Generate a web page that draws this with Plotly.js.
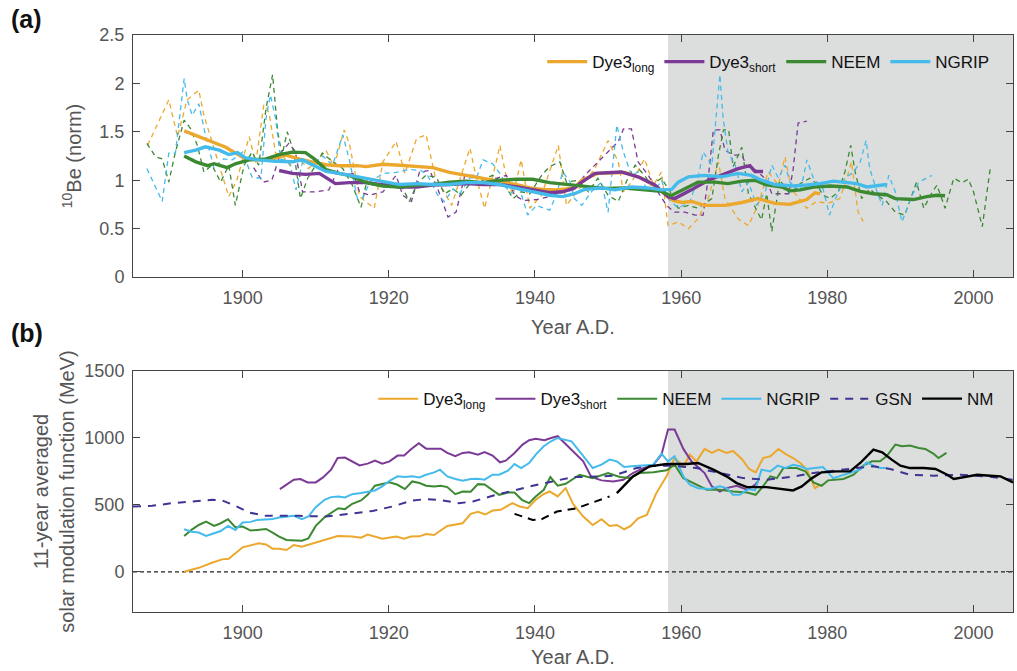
<!DOCTYPE html>
<html>
<head>
<meta charset="utf-8">
<script src="https://cdn.plot.ly/plotly-3.0.1.min.js"></script>
<style>html,body{margin:0;padding:0;background:#fff;}#chart{width:1017px;height:671px;}</style>
</head>
<body>
<div id="chart"></div>
<script>
// ---------- Panel (a): 10Be (norm) ----------
// smoothed (thick solid) series
var aLongYr  = [1892,1894,1895.8,1897.7,1898.6,1900.4,1902.2,1904.1,1905.9,1907.7,1909.5,1911.4,1913.2,1915.7,1916.9,1919.2,1921.5,1923.8,1926,1928.3,1930.6,1932.9,1935.2,1937.5,1939.3,1941.1,1942.9,1944.1,1945.4,1946.4,1948.6,1952.3,1954.6,1956.4,1957.8,1958.9,1960.1,1961.4,1963.2,1966,1968.3,1970.5,1972.8,1974.9,1975.3,1977.2,1978.3,1979];
var aLongVal = [1.51,1.45,1.39,1.34,1.30,1.22,1.21,1.22,1.26,1.22,1.19,1.16,1.15,1.15,1.14,1.165,1.155,1.145,1.13,1.08,1.05,1.02,0.99,0.955,0.92,0.905,0.90,0.91,0.92,1.0,1.07,1.08,1.02,0.94,0.86,0.79,0.77,0.78,0.74,0.74,0.77,0.81,0.76,0.75,0.76,0.80,0.87,0.86];

var aShortYr  = [1905,1906.8,1908.6,1910.5,1912.7,1914.6,1916.9,1919.2,1921.5,1923.8,1926,1928.3,1930.6,1932.9,1935.2,1937.5,1939.7,1942,1943.8,1945.4,1946.4,1948.2,1951.8,1954.1,1956.4,1958.2,1959.1,1961.4,1963.7,1966,1967.8,1969.4,1970.1,1971.2];
var aShortVal = [1.10,1.07,1.06,1.07,0.965,0.975,0.975,0.955,0.93,0.93,0.95,0.955,0.965,0.955,0.955,0.93,0.90,0.87,0.88,0.92,0.98,1.07,1.085,1.035,0.95,0.83,0.81,0.90,1.00,1.07,1.12,1.15,1.09,1.09];

var aNeemYr  = [1892,1893.6,1895.2,1896.1,1897.9,1899,1900.9,1903.2,1905,1906.8,1908.6,1909.8,1911.4,1913.2,1914.6,1916.9,1919.2,1921.5,1923.8,1926,1928.3,1930.6,1932.9,1935.2,1937.5,1939.7,1942,1943.8,1946.8,1949.5,1952.3,1955,1957.3,1958.6,1960.5,1962.3,1964.6,1966.4,1968.3,1970.1,1971.5,1973.8,1974.9,1976.3,1978.1,1980.4,1982.7,1984.5,1986.3,1988.1,1989.3,1991.8,1993.6,1995,1996.1];
var aNeemVal = [1.25,1.19,1.15,1.17,1.13,1.17,1.21,1.22,1.265,1.29,1.285,1.22,1.11,1.07,1.05,0.975,0.94,0.93,0.95,0.955,0.98,0.99,0.975,1.0,1.01,1.01,0.975,0.96,0.94,0.915,0.92,0.90,0.885,0.84,0.915,0.98,0.98,0.965,0.99,1.0,0.955,0.93,0.89,0.90,0.93,0.94,0.93,0.885,0.86,0.85,0.81,0.80,0.83,0.845,0.84];

var aNgripYr  = [1892,1893.6,1894.9,1896.8,1898.1,1899.3,1900.4,1902.2,1904.5,1906.8,1908.2,1909.5,1911.4,1913.2,1914.6,1916.9,1919.2,1921.5,1923.8,1926,1928.3,1930.6,1932.9,1935.2,1937.5,1939.7,1942,1943.8,1945.4,1946.8,1949.1,1950.9,1953.2,1955.5,1957.3,1958.7,1959.6,1961,1963.2,1965.5,1967.8,1969.6,1971,1972.8,1975.3,1977.2,1979,1980.8,1982.7,1984,1985.4,1986.8,1988.1];
var aNgripVal = [1.285,1.31,1.345,1.31,1.265,1.285,1.23,1.21,1.195,1.19,1.21,1.16,1.09,1.07,1.05,1.025,0.99,0.955,0.965,0.955,0.955,0.975,0.975,0.955,0.915,0.88,0.845,0.83,0.86,0.905,0.92,0.90,0.93,0.92,0.90,0.905,0.98,1.035,1.05,1.035,1.07,1.05,1.0,0.955,0.94,0.95,0.965,0.99,0.975,0.965,0.93,0.94,0.955];

// raw (thin dashed) series
var aLongRawYr  = [1887,1889.9,1891.1,1892.4,1894,1894.7,1895.8,1897.2,1898.1,1899.2,1900.9,1901.8,1902.9,1903.6,1904.5,1905.5,1906.5,1907.7,1909,1910.2,1911.4,1912.5,1913.9,1914.6,1916,1918,1919.2,1921,1922.2,1923.8,1925.1,1926.3,1928.6,1929.9,1931.1,1932,1933.1,1934.7,1935.2,1936.1,1937,1938.1,1939.3,1940.9,1943.2,1944.3,1945.9,1948.2,1950,1951.4,1952.1,1953.2,1955,1956.2,1957.3,1958.2,1959.6,1961,1962.3,1963.7,1965.1,1966,1967.8,1969.2,1970.5,1971.9,1973.3,1974.2,1975.1,1977.2,1978.5,1980.1,1981.7,1982.7,1983.3,1984.2,1984.9];
var aLongRawVal = [1.36,1.83,1.45,1.83,1.93,1.67,1.40,1.05,0.83,1.0,1.45,1.18,1.78,1.70,1.28,1.25,1.15,1.22,1.12,1.2,1.31,1.14,1.52,1.38,0.83,0.71,1.19,1.40,1.07,1.43,1.47,1.05,0.74,1.05,1.33,1.02,0.71,1.19,1.36,1.02,0.845,1.21,0.71,0.845,1.36,0.74,0.90,1.12,1.41,1.19,0.88,0.98,1.22,0.95,1.085,0.53,0.57,0.50,0.60,0.81,1.19,0.81,0.60,0.53,0.74,1.085,0.95,1.24,0.91,0.71,0.78,0.76,0.81,1.03,1.19,0.67,0.575];

var aShortRawYr  = [1901.5,1902.8,1904,1905.2,1906.3,1907.2,1908.2,1910,1911.8,1913,1914,1915.1,1916,1917.4,1919.2,1921,1921.9,1923.1,1924.2,1925.6,1926.7,1928.1,1929.2,1930.4,1932,1933.3,1934.7,1936.1,1937.2,1938.4,1940.2,1942,1943.8,1945.4,1946.8,1948.6,1950,1951.4,1952.1,1953.2,1954.1,1955.5,1956.8,1958,1959.1,1960.5,1961.9,1963,1963.7,1964.4,1965.3,1966,1967.1,1968.3,1969,1970.3,1971.7,1972.4,1974.7,1975.3,1976,1977.2];
var aShortRawVal = [1.13,0.98,1.0,1.28,1.38,1.30,0.88,0.88,0.90,1.1,1.05,1.07,0.88,0.845,0.88,1.05,0.845,0.78,1.085,1.10,0.91,0.62,0.67,1.05,1.05,1.0,1.02,1.05,0.845,0.79,0.80,0.83,0.88,0.90,1.05,1.19,1.29,1.40,1.53,1.53,1.19,1.05,0.88,0.74,0.67,0.67,0.64,0.64,1.02,1.52,1.52,1.31,1.26,1.26,1.14,1.10,1.0,0.86,0.86,1.10,1.59,1.61];

var aNeemRawYr  = [1886.9,1888.1,1889,1889.9,1890.8,1892,1892.9,1893.8,1894.7,1895.8,1897,1898.1,1899,1900.2,1901.3,1902.2,1903.2,1904.1,1904.8,1905.4,1906.1,1907,1907.9,1908.9,1910,1910.9,1912.3,1913.7,1915,1916.2,1917.1,1918,1919.2,1920.5,1921.7,1922.8,1924,1925.1,1926.5,1927.6,1928.8,1929.9,1931.1,1932.2,1933.3,1934.2,1935.6,1937,1938.1,1939.3,1940.9,1942,1943.4,1944.3,1945.9,1947.3,1948.6,1950,1951.4,1952.7,1953.7,1955,1955.9,1957.3,1958.5,1959.6,1961,1962.3,1964.2,1965.1,1965.8,1966.5,1967.1,1968.3,1969.2,1970.1,1971,1971.7,1972.4,1973.5,1974.9,1976.3,1977.6,1978.5,1979.4,1980.4,1981.5,1982.4,1983.2,1983.8,1984.7,1985.8,1986.8,1988.1,1989.3,1990.6,1991.3,1992.2,1993.2,1994.1,1995,1996.1,1997.3,1998.4,1999.3,2000,2001.2,2002.3];
var aNeemRawVal = [1.38,1.24,1.22,0.98,1.29,1.62,1.53,1.36,1.085,1.155,0.98,1.155,0.74,1.155,1.29,1.155,1.74,2.09,1.50,1.26,1.50,1.29,0.81,1.02,1.155,1.28,1.19,1.12,0.95,0.72,1.03,0.93,0.98,0.93,0.95,0.78,0.98,1.05,1.03,0.86,0.91,0.845,0.965,0.965,1.02,1.05,0.98,0.81,0.88,0.86,1.05,1.14,1.19,0.98,1.0,0.88,1.02,0.845,0.78,1.02,1.155,1.05,0.95,1.02,0.88,0.71,0.74,0.71,0.81,1.26,1.52,1.52,1.14,1.34,0.86,0.72,0.59,0.86,0.47,1.0,0.86,0.965,1.02,0.965,0.845,0.81,0.88,1.085,1.36,1.085,0.81,0.91,0.845,0.78,0.67,0.64,0.78,0.98,0.71,0.845,0.95,0.71,1.02,0.975,1.01,0.88,0.52,1.13];

var aNgripRawYr  = [1886.9,1889,1889.9,1890.8,1892,1892.4,1893.1,1894,1894.9,1896.1,1897.4,1898.6,1900,1901.3,1902.5,1903.2,1903.8,1904.5,1905.2,1906.4,1907.3,1908.2,1909.5,1911,1912.3,1913.7,1914.6,1915.7,1916.4,1917.4,1919.2,1921,1922.8,1924.4,1925.3,1926.7,1927.6,1928.8,1929.7,1931.1,1932,1932.9,1934.2,1935.4,1936.5,1937.9,1939,1940.2,1942,1942.9,1943.8,1944.8,1945.4,1946.4,1947.7,1949.1,1950,1950.7,1951.2,1952.1,1953.2,1954.1,1955.3,1956.4,1957.3,1958.2,1959.6,1961.2,1962.3,1963,1964.2,1964.8,1965.3,1965.7,1966.4,1967.4,1968.3,1969.2,1970.3,1971.5,1972.4,1973.3,1974.2,1974.9,1976.3,1977.2,1978.1,1979.4,1980.3,1981.3,1982.4,1983.6,1984.5,1985.3,1985.8,1986.8,1987.5,1988.4,1989.3,1990.2,1991.6,1992.5,1994.3];
var aNgripRawVal = [1.12,0.78,1.28,1.28,2.05,1.84,1.67,1.79,1.47,1.12,1.22,1.21,1.29,1.03,1.02,1.64,1.88,1.64,1.22,1.19,0.90,1.19,1.155,1.25,1.155,1.47,1.21,0.81,0.81,0.98,1.07,1.08,1.11,1.10,1.05,0.845,0.78,0.91,0.86,1.025,1.025,1.21,1.17,1.05,0.86,0.91,0.64,0.74,0.69,0.845,1.085,0.98,0.81,0.74,0.88,0.98,0.67,1.155,1.57,1.29,1.05,1.085,0.91,0.88,1.0,0.81,0.71,0.78,1.02,1.29,1.155,1.67,2.09,1.67,1.29,1.155,0.88,0.98,0.74,0.88,1.155,1.02,1.155,0.98,0.88,1.21,1.02,0.91,0.64,0.845,1.02,1.085,1.19,1.41,1.12,0.88,0.74,1.05,0.88,0.57,0.845,0.98,1.05];

// ---------- Panel (b): solar modulation function (MeV) ----------
var bLongYr  = [1892,1894,1895.8,1897.2,1898.1,1900,1902.2,1903.2,1904.1,1905,1906,1907,1908.1,1910,1911.4,1913,1915,1916.2,1917.1,1919.1,1921,1922.1,1923,1924.2,1925.1,1926.2,1928,1930.1,1931.2,1932.2,1933.2,1934.2,1935.3,1936.9,1937.9,1939,1940.1,1941.1,1942,1943.1,1944.2,1945.2,1946.6,1947.9,1949.1,1950.2,1951.2,1952.2,1953.1,1954.1,1955.3,1956.6,1958,1959.1,1960.3,1961.2,1962.1,1963.2,1964.2,1965.1,1966.2,1967.1,1968.3,1969.3,1970.2,1971.2,1972.2,1973.3,1974.2,1975.3,1976.3,1977.2,1978.3,1979];
var bLongVal = [0,30,68,93,98,183,213,205,173,173,163,200,188,218,243,268,263,255,278,248,263,248,263,265,283,275,343,363,433,448,428,458,463,513,488,475,538,578,600,563,625,508,413,350,393,343,350,318,343,400,425,588,713,850,788,875,825,918,888,913,888,903,843,768,743,850,863,918,883,850,813,763,625,650];

var bShortYr  = [1905.1,1906.1,1907,1907.9,1908.9,1910,1911,1912.1,1913,1914,1915,1916,1917.1,1918.1,1919.1,1920.1,1921.2,1922.1,1923,1924.1,1925.1,1926.2,1927.1,1928,1929.1,1930.1,1931,1932.2,1933.1,1934.2,1935.2,1936,1937.2,1938.3,1939.2,1940.1,1941.3,1942.2,1943.1,1944.5,1945.7,1946.6,1947.7,1949.1,1950.7,1952.1,1953.4,1954.8,1956.2,1957.3,1958.2,1959.1,1960.3,1961.4,1962.3,1963.2,1964.2,1965.3,1966.2,1967.6,1969,1970.1,1970.5];
var bShortVal = [618,658,688,693,668,668,705,763,850,853,825,795,808,830,808,825,868,868,913,960,920,920,920,888,863,888,893,875,895,868,818,830,888,950,983,993,983,1000,1013,938,875,825,708,683,675,688,738,775,800,875,1063,1063,918,825,783,738,638,600,625,643,613,650,675];

var bNeemYr  = [1892,1893,1894,1895,1896.1,1897,1898,1899,1900,1901.1,1902,1903.2,1904.1,1905,1906,1907,1908.1,1909,1910,1911.2,1912.1,1913.1,1914,1915,1916.2,1917.1,1918.1,1919.1,1920.1,1921.2,1922.2,1923.2,1924.2,1925.1,1926.2,1927.1,1928,1929.1,1930.1,1931.2,1932.2,1933.1,1934.2,1935.1,1936.3,1937.2,1938.2,1939.2,1940.1,1941.2,1942.1,1943.1,1944.2,1946.1,1947.9,1950,1951.6,1953,1954.3,1956.2,1958,1959.1,1960.3,1961.2,1962.6,1963.5,1965.3,1967.1,1969,1970.2,1971,1972.2,1973.1,1974,1975.8,1977,1978.1,1979.2,1980.1,1982.2,1983.6,1984.9,1986.1,1987.2,1988.1,1989.3,1990.2,1991.3,1992.5,1993.4,1994.5,1995.2,1996.3];
var bNeemVal = [268,313,350,375,343,363,393,333,338,308,313,320,293,263,238,238,233,250,343,408,443,475,468,508,533,575,643,658,668,650,618,675,663,643,638,643,633,580,600,598,655,653,608,575,593,593,538,513,563,613,708,643,658,725,700,738,708,700,738,743,758,800,700,675,638,613,613,600,593,575,625,713,700,775,775,750,668,643,683,693,725,793,825,825,863,950,938,943,925,918,883,850,888];

var bNgripYr  = [1892,1893,1894,1895,1896.1,1897,1898,1899,1900,1901.1,1902,1903.2,1904.1,1905,1906,1907,1908.1,1909,1910,1911.2,1912.1,1913.1,1914,1915,1916.2,1917.1,1918.1,1919.1,1920.1,1921.2,1922.2,1923.2,1924.2,1925.1,1926.2,1927,1928,1929.1,1930.1,1931.2,1932.2,1933.1,1934.2,1935.1,1936.3,1937.2,1938.1,1939.2,1940.1,1941.2,1942.2,1943.1,1944.2,1945,1946.1,1947,1947.9,1949.1,1950.2,1951.2,1952.2,1953.2,1954.3,1955.3,1956.2,1957.3,1958.2,1959.1,1960.3,1961.2,1962.3,1963.9,1965.3,1966.2,1967.1,1968,1969.2,1970.1,1971,1972.2,1973.2,1974.2,1975.3,1976.3,1977.2,1978.3,1979.4,1980.8,1982.2,1983.6,1984.5,1985.4,1986.3,1987.2,1988.1];
var bNgripVal = [318,300,293,268,288,305,343,313,368,373,388,393,395,405,413,418,393,413,483,538,558,563,555,580,588,600,608,638,680,713,708,713,705,725,743,763,713,693,680,693,695,688,725,725,755,805,775,813,875,938,975,1000,988,975,900,838,775,800,838,825,783,788,793,800,800,883,825,863,713,650,625,618,638,625,575,575,618,608,763,750,793,775,800,788,768,775,783,700,725,750,763,818,793,775,775];

var bGsnYr  = [1885,1887.6,1890.4,1893.1,1895.8,1897.2,1899,1900.9,1903.2,1907.7,1911.4,1914.6,1917.8,1920.5,1923.2,1925.1,1926.9,1929.6,1931.5,1934.2,1936.5,1939.7,1942.4,1945.2,1947,1950.7,1953.9,1956.2,1958.9,1962.1,1965.3,1968.5,1971.7,1974.9,1978.1,1981.7,1984,1986.3,1988.6,1991.3,1994.5,1998.2,2001.8,2005.4];
var bGsnVal = [488,493,513,525,538,533,493,443,418,418,413,433,455,488,533,543,538,513,525,568,600,643,675,708,708,718,775,793,793,775,738,700,688,708,738,763,775,788,768,725,718,725,713,688];

var bNmEarlyYr  = [1937.2,1939.7,1940.9,1943,1945.7,1948.4,1950.2];
var bNmEarlyVal = [433,388,393,450,475,525,563];
var bNmYr  = [1951.2,1953.4,1955.7,1958,1960.7,1962.3,1964.4,1966.2,1967.6,1969,1971.7,1973.5,1975.3,1976.5,1977.9,1979.2,1981.3,1983.1,1984.5,1986.3,1987.5,1988.8,1990,1991.3,1993.2,1994.8,1996.4,1997.3,1998.6,2000.5,2002.3,2003.7,2005.4];
var bNmVal = [588,713,788,805,805,813,763,713,663,633,633,618,608,638,700,743,750,750,813,913,893,838,793,775,775,768,725,693,708,725,718,713,668];

// axes / labels
var xRange = [1885, 2005.4];
var shadeStart = 1958.2;
var xTicks = [1900, 1920, 1940, 1960, 1980, 2000];
var aTicks = [0, 0.5, 1, 1.5, 2, 2.5];
var aTickText = ['0', '0.5', '1', '1.5', '2', '2.5'];
var bTicks = [0, 500, 1000, 1500];
var names = ['Dye3<sub>long</sub>', 'Dye3<sub>short</sub>', 'NEEM', 'NGRIP', 'GSN', 'NM'];

var C = {long: '#EBA82D', short: '#7B3A96', neem: '#3B8A32', ngrip: '#44BBEB', gsn: '#3E3494', nm: '#000000'};
var FONT = 'Arial, "Liberation Sans", Helvetica, sans-serif';
var TITLEFONT = {family: FONT, size: 20, color: '#555'};

function dashed(x, y, col) {
  return {x: x, y: y, xaxis: 'x', yaxis: 'y', mode: 'lines', showlegend: false, hoverinfo: 'skip',
          line: {color: col, width: 1.3, dash: '5px,4px'}};
}
function thick(x, y, col, name) {
  return {x: x, y: y, xaxis: 'x', yaxis: 'y', mode: 'lines', name: name, legend: 'legend',
          line: {color: col, width: 3.4}};
}
function bline(x, y, col, name, extra) {
  var t = {x: x, y: y, xaxis: 'x2', yaxis: 'y2', mode: 'lines', name: name, legend: 'legend2',
           line: {color: col, width: 2}};
  if (extra) for (var k in extra) t[k] = extra[k];
  return t;
}

var traces = [
  dashed(aLongRawYr, aLongRawVal, C.long),
  dashed(aShortRawYr, aShortRawVal, C.short),
  dashed(aNeemRawYr, aNeemRawVal, C.neem),
  dashed(aNgripRawYr, aNgripRawVal, C.ngrip),
  thick(aLongYr, aLongVal, C.long, names[0]),
  thick(aShortYr, aShortVal, C.short, names[1]),
  thick(aNeemYr, aNeemVal, C.neem, names[2]),
  thick(aNgripYr, aNgripVal, C.ngrip, names[3]),
  bline(bLongYr, bLongVal, C.long, names[0]),
  bline(bShortYr, bShortVal, C.short, names[1]),
  bline(bNeemYr, bNeemVal, C.neem, names[2]),
  bline(bNgripYr, bNgripVal, C.ngrip, names[3]),
  bline(bGsnYr, bGsnVal, C.gsn, names[4], {line: {color: C.gsn, width: 2, dash: '8px,7px'}}),
  bline(bNmEarlyYr, bNmEarlyVal, C.nm, 'NM early', {showlegend: false, line: {color: C.nm, width: 2, dash: '8px,6px'}}),
  bline(bNmYr, bNmVal, C.nm, names[5], {line: {color: C.nm, width: 2.4}})
];

var axisCommon = {
  showline: true, linecolor: '#444', linewidth: 1, mirror: 'ticks',
  ticks: 'inside', ticklen: 7, tickwidth: 1, tickcolor: '#444',
  showgrid: false, zeroline: false, ticklabelstandoff: 4,
  tickfont: {family: FONT, size: 18, color: '#555'}
};
function ax(extra) { var o = JSON.parse(JSON.stringify(axisCommon)); for (var k in extra) o[k] = extra[k]; return o; }

var layout = {
  width: 1017, height: 671,
  margin: {l: 133, r: 4, t: 35, b: 59},
  paper_bgcolor: '#ffffff', plot_bgcolor: 'rgba(0,0,0,0)',
  font: {family: FONT, color: '#222'},
  xaxis: ax({domain: [0, 1], anchor: 'y', range: xRange, tickvals: xTicks,
    title: {text: 'Year A.D.', font: TITLEFONT, standoff: 13}}),
  yaxis: ax({domain: [0.5806, 1], anchor: 'x', range: [0, 2.5], tickvals: aTicks, ticktext: aTickText,
    title: {text: '<sup>10</sup>Be (norm)', font: TITLEFONT, standoff: 12}}),
  xaxis2: ax({domain: [0, 1], anchor: 'y2', range: xRange, tickvals: xTicks,
    title: {text: 'Year A.D.', font: TITLEFONT, standoff: 8}}),
  yaxis2: ax({domain: [0, 0.4177], anchor: 'x2', range: [-300, 1500], tickvals: bTicks,
    title: {text: '11-year averaged<br>solar modulation function (MeV)', font: TITLEFONT, standoff: 4}}),
  legend: {orientation: 'h', x: 0.465, y: 0.953, xanchor: 'left', yanchor: 'middle', itemwidth: 40,
    bgcolor: 'rgba(0,0,0,0)', borderwidth: 0, font: {family: FONT, size: 17, color: '#111'}},
  legend2: {orientation: 'h', x: 0.273, y: 0.369, xanchor: 'left', yanchor: 'middle', itemwidth: 40,
    bgcolor: 'rgba(0,0,0,0)', borderwidth: 0, font: {family: FONT, size: 17, color: '#111'}},
  shapes: [
    {type: 'rect', xref: 'x', yref: 'y domain', x0: shadeStart, x1: xRange[1], y0: 0, y1: 1,
     fillcolor: '#dcdddd', line: {width: 0}, layer: 'below'},
    {type: 'rect', xref: 'x2', yref: 'y2 domain', x0: shadeStart, x1: xRange[1], y0: 0, y1: 1,
     fillcolor: '#dcdddd', line: {width: 0}, layer: 'below'},
    {type: 'line', xref: 'x2 domain', yref: 'y2', x0: 0, x1: 1, y0: 0, y1: 0,
     line: {color: '#222', width: 1.3, dash: '4px,3px'}, layer: 'below'}
  ],
  annotations: [
    {text: '<b>(a)</b>', xref: 'paper', yref: 'paper', x: -0.141, y: 1.027, xanchor: 'left', yanchor: 'middle',
     showarrow: false, font: {family: FONT, size: 25, color: '#111'}},
    {text: '<b>(b)</b>', xref: 'paper', yref: 'paper', x: -0.141, y: 0.4835, xanchor: 'left', yanchor: 'middle',
     showarrow: false, font: {family: FONT, size: 25, color: '#111'}}
  ]
};

Plotly.newPlot('chart', traces, layout, {displayModeBar: false, staticPlot: true});
</script>
</body>
</html>
